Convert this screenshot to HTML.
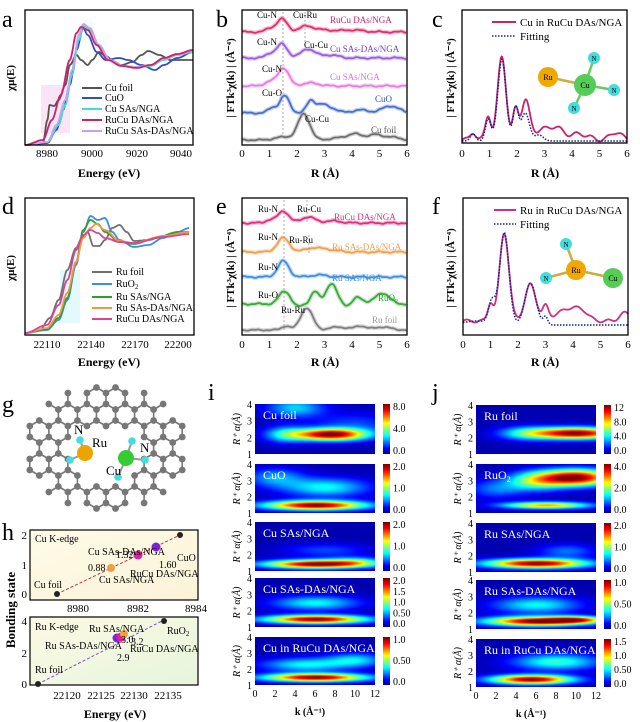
<!DOCTYPE html>
<html><head><meta charset="utf-8"><style>
body{margin:0;background:#fff;width:640px;height:722px;overflow:hidden;position:relative;font-family:"Liberation Serif",serif}
svg{position:absolute;left:0;top:0}
#s{z-index:0}
#s2{z-index:2}
canvas{position:absolute;z-index:1}
</style></head><body>
<svg id="s" width="640" height="722" viewBox="0 0 640 722" font-family="Liberation Serif, serif">
<g font-size="24">
<text x="2" y="27">a</text><text x="216" y="27">b</text><text x="432" y="27">c</text>
<text x="2" y="214">d</text><text x="216" y="214">e</text><text x="432" y="214">f</text>
<text x="2" y="412">g</text><text x="2" y="540">h</text><text x="208" y="400">i</text><text x="432" y="400">j</text>
</g>
<rect x="41" y="85" width="29" height="48" fill="#fbe4f6"/>
<rect x="60" y="270" width="20" height="53" fill="#e4f9fb"/>
<g id="curves"></g>
<g fill="none" stroke="#000" stroke-width="1.3">
<rect x="25" y="10" width="168" height="135"/><rect x="242" y="10" width="165" height="135"/><rect x="462" y="10" width="165" height="133"/>
<rect x="25" y="198" width="169" height="137"/><rect x="242" y="198" width="165" height="137"/><rect x="463" y="198" width="165" height="137"/>
</g>
<g font-size="11" text-anchor="middle">
<text x="47" y="157">8980</text><text x="92" y="157">9000</text><text x="137" y="157">9020</text><text x="181" y="157">9040</text>
<text x="47" y="348">22110</text><text x="91" y="348">22140</text><text x="135" y="348">22170</text><text x="178" y="348">22200</text>
</g>
<g font-size="11" text-anchor="middle" id="rt"></g>
<g font-size="12" font-weight="bold" text-anchor="middle">
<text x="109" y="177">Energy (eV)</text><text x="325" y="177">R (Å)</text><text x="545" y="177">R (Å)</text>
<text x="109" y="366">Energy (eV)</text><text x="325" y="366">R (Å)</text><text x="545" y="366">R (Å)</text>
<text x="115" y="718">Energy (eV)</text>
</g>
<g font-size="11" font-weight="bold" text-anchor="middle">
<text transform="translate(14,78) rotate(-90)">χμ(E)</text>
<text transform="translate(14,268) rotate(-90)">χμ(E)</text>
<text transform="translate(234,78) rotate(-90)">| FTk³χ(k) | (Å⁻⁴)</text>
<text transform="translate(234,268) rotate(-90)">| FTk³χ(k) | (Å⁻⁴)</text>
<text transform="translate(454,78) rotate(-90)">| FTk³χ(k) | (Å⁻⁴)</text>
<text transform="translate(454,268) rotate(-90)">| FTk³χ(k) | (Å⁻⁴)</text>
<text transform="translate(15,610) rotate(-90)" font-size="13">Bonding state</text>
</g>
<g font-size="10">
<line x1="82" y1="88" x2="102" y2="88" stroke="#555" stroke-width="2"/><text x="105" y="91">Cu foil</text>
<line x1="82" y1="98" x2="102" y2="98" stroke="#3050c0" stroke-width="2"/><text x="105" y="101">CuO</text>
<line x1="82" y1="109" x2="102" y2="109" stroke="#40e0c0" stroke-width="2"/><text x="105" y="112">Cu SAs/NGA</text>
<line x1="82" y1="120" x2="102" y2="120" stroke="#d0206a" stroke-width="2"/><text x="105" y="123">RuCu DAs/NGA</text>
<line x1="82" y1="131" x2="102" y2="131" stroke="#c8a0f0" stroke-width="2"/><text x="105" y="134">RuCu SAs-DAs/NGA</text>
<line x1="92" y1="272" x2="112" y2="272" stroke="#707070" stroke-width="2"/><text x="116" y="275">Ru foil</text>
<line x1="92" y1="284" x2="112" y2="284" stroke="#3a8ee0" stroke-width="2"/><text x="116" y="287">RuO<tspan font-size="7" dy="2">2</tspan></text>
<line x1="92" y1="297" x2="112" y2="297" stroke="#2ea02e" stroke-width="2"/><text x="116" y="300">Ru SAs/NGA</text>
<line x1="92" y1="308" x2="112" y2="308" stroke="#f09a40" stroke-width="2"/><text x="116" y="311">Ru SAs-DAs/NGA</text>
<line x1="92" y1="319" x2="112" y2="319" stroke="#e0409a" stroke-width="2"/><text x="116" y="322">RuCu DAs/NGA</text>
</g>
<g font-size="9">
<text x="257" y="18">Cu-N</text><text x="293" y="18">Cu-Ru</text><text x="330" y="23" fill="#d0206a">RuCu DAs/NGA</text>
<text x="257" y="45">Cu-N</text><text x="304" y="48">Cu-Cu</text><text x="330" y="52" fill="#7a3ed0">Cu SAs-DAs/NGA</text>
<text x="262" y="72">Cu-N</text><text x="330" y="80" fill="#e070d8">Cu SAs/NGA</text>
<text x="262" y="96">Cu-O</text><text x="375" y="102" fill="#3050c0">CuO</text>
<text x="305" y="122">Cu-Cu</text><text x="371" y="133" fill="#555">Cu foil</text>
<text x="258" y="212">Ru-N</text><text x="297" y="212">Ru-Cu</text><text x="334" y="220" fill="#e0307e">RuCu DAs/NGA</text>
<text x="258" y="240">Ru-N</text><text x="289" y="243">Ru-Ru</text><text x="332" y="250" fill="#f0a050">Ru SAs-DAs/NGA</text>
<text x="258" y="270">Ru-N</text><text x="332" y="281" fill="#3f8fe0">Ru SAs/NGA</text>
<text x="258" y="298">Ru-O</text><text x="378" y="301" fill="#2ea02e">RuO<tspan font-size="6" dy="2">2</tspan></text>
<text x="281" y="313">Ru-Ru</text><text x="372" y="323" fill="#999">Ru foil</text>
</g>
<g font-size="11">
<line x1="492" y1="22" x2="516" y2="22" stroke="#d0206a" stroke-width="2"/><text x="520" y="26">Cu in RuCu DAs/NGA</text>
<line x1="492" y1="36" x2="516" y2="36" stroke="#1020a0" stroke-width="1.5" stroke-dasharray="1.5 1.5"/><text x="520" y="40">Fitting</text>
<line x1="494" y1="210" x2="516" y2="210" stroke="#d0307e" stroke-width="2"/><text x="520" y="214">Ru in RuCu DAs/NGA</text>
<line x1="494" y1="224" x2="516" y2="224" stroke="#1020a0" stroke-width="1.5" stroke-dasharray="1.5 1.5"/><text x="520" y="228">Fitting</text>
</g>
<g stroke-width="2.5">
<line x1="548" y1="77" x2="585" y2="85" stroke="#c8b040"/>
<line x1="585" y1="85" x2="594" y2="58" stroke="#6c6"/><line x1="585" y1="85" x2="614" y2="90" stroke="#6c6"/><line x1="585" y1="85" x2="574" y2="108" stroke="#6c6"/>
<line x1="576" y1="270" x2="566" y2="244" stroke="#c8b040"/><line x1="576" y1="270" x2="546" y2="278" stroke="#c8b040"/><line x1="576" y1="270" x2="613" y2="278" stroke="#c8b040"/>
</g>
<g font-size="8" text-anchor="middle">
<circle cx="548" cy="77" r="10" fill="#f0a800"/><text x="548" y="80">Ru</text>
<circle cx="585" cy="85" r="11" fill="#5c5"/><text x="585" y="88">Cu</text>
<circle cx="594" cy="58" r="6" fill="#4dd"/><text x="594" y="61" font-size="7">N</text>
<circle cx="614" cy="90" r="6" fill="#4dd"/><text x="614" y="93" font-size="7">N</text>
<circle cx="574" cy="108" r="6" fill="#4dd"/><text x="574" y="111" font-size="7">N</text>
<circle cx="566" cy="244" r="6" fill="#4dd"/><text x="566" y="247" font-size="7">N</text>
<circle cx="546" cy="278" r="6" fill="#4dd"/><text x="546" y="281" font-size="7">N</text>
<circle cx="576" cy="270" r="10" fill="#f0a800"/><text x="576" y="273">Ru</text>
<circle cx="613" cy="278" r="10" fill="#5c5"/><text x="613" y="281">Cu</text>
</g>
<g id="lat"></g>
<g>
<line x1="85" y1="453" x2="80" y2="440" stroke="#999" stroke-width="2"/><line x1="85" y1="453" x2="70" y2="460" stroke="#999" stroke-width="2"/>
<line x1="126" y1="458" x2="132" y2="441" stroke="#999" stroke-width="2"/><line x1="126" y1="458" x2="145" y2="460" stroke="#999" stroke-width="2"/><line x1="126" y1="458" x2="118" y2="477" stroke="#999" stroke-width="2"/>
<circle cx="80" cy="440" r="3.8" fill="#4dd"/><circle cx="70" cy="460" r="3.8" fill="#4dd"/><circle cx="132" cy="441" r="3.8" fill="#4dd"/><circle cx="145" cy="460" r="3.8" fill="#4dd"/><circle cx="118" cy="477" r="3.8" fill="#4dd"/>
<circle cx="85" cy="453" r="8" fill="#eba400"/><circle cx="126" cy="458" r="8" fill="#3c3"/>
<g font-size="13"><text x="74" y="434">N</text><text x="92" y="447">Ru</text><text x="140" y="452">N</text><text x="106" y="475">Cu</text></g>
</g>
<defs>
<linearGradient id="h1" x1="0" y1="0" x2="1" y2="1"><stop offset="0" stop-color="#fffbe8"/><stop offset="1" stop-color="#fbf3d8"/></linearGradient>
<linearGradient id="h2" x1="0" y1="0" x2="1" y2="1"><stop offset="0" stop-color="#fdf9e4"/><stop offset="1" stop-color="#e6f5dc"/></linearGradient>
</defs>
<rect x="30" y="530" width="168" height="70" fill="url(#h1)" stroke="#000" stroke-width="1.2"/>
<rect x="30" y="617" width="168" height="68" fill="url(#h2)" stroke="#000" stroke-width="1.2"/>
<line x1="57" y1="594" x2="180" y2="535" stroke="#c03040" stroke-dasharray="3 2"/>
<line x1="38" y1="684" x2="162" y2="621" stroke="#8050d0" stroke-dasharray="3 2"/>
<circle cx="57" cy="594" r="3" fill="#222"/><circle cx="111" cy="568" r="4" fill="#f0a040"/><circle cx="138" cy="555" r="4.5" fill="#e020a0"/><circle cx="156" cy="547" r="4.5" fill="#8020e0"/><circle cx="180" cy="535" r="3" fill="#222"/>
<circle cx="38" cy="684" r="3" fill="#222"/><circle cx="117" cy="638" r="4.5" fill="#8020e0"/><circle cx="121" cy="637" r="4.5" fill="#e02090"/><circle cx="124" cy="634" r="4" fill="#f0a040"/><circle cx="164" cy="621" r="3" fill="#222"/>
<g font-size="10">
<text x="35" y="542">Cu K-edge</text><text x="88" y="555">Cu SAs-DAs/NGA</text><text x="177" y="561">CuO</text>
<text x="116" y="558">1.32</text><text x="159" y="568">1.60</text><text x="88" y="571">0.88</text><text x="130" y="577">RuCu DAs/NGA</text><text x="99" y="583">Cu SAs/NGA</text><text x="34" y="588">Cu foil</text>
<text x="35" y="630">Ru K-edge</text><text x="89" y="632">Ru SAs/NGA</text><text x="167" y="634">RuO<tspan font-size="7" dy="2">2</tspan></text>
<text x="121" y="643">3.0</text><text x="131" y="645">3.2</text><text x="45" y="649">Ru SAs-DAs/NGA</text><text x="130" y="652">RuCu DAs/NGA</text><text x="117" y="661">2.9</text><text x="35" y="673">Ru foil</text>
</g>
<g font-size="11" text-anchor="end">
<text x="27" y="539">2</text><text x="27" y="569">1</text><text x="27" y="598">0</text>
<text x="27" y="625">4</text><text x="27" y="657">2</text><text x="27" y="688">0</text>
</g>
<g font-size="11" text-anchor="middle">
<text x="78" y="612">8980</text><text x="138" y="612">8982</text><text x="196" y="612">8984</text>
<text x="67" y="699">22120</text><text x="101" y="699">22125</text><text x="134" y="699">22130</text><text x="168" y="699">22135</text>
</g>
</svg>
<svg id="s2" width="640" height="722" viewBox="0 0 640 722" font-family="Liberation Serif, serif"><g id="hm"></g></svg>
<script>
const S=document.getElementById('s');
const NS='http://www.w3.org/2000/svg';
function el(t,a,p){const e=document.createElementNS(NS,t);for(const k in a)e.setAttribute(k,a[k]);(p||S).appendChild(e);return e;}
const C=document.getElementById('curves');
function poly(pts,color,w,dash){let d='M'+pts.map(p=>p[0].toFixed(1)+','+p[1].toFixed(1)).join('L');const a={d:d,fill:'none',stroke:color,'stroke-width':w,'stroke-linejoin':'round'};if(dash)a['stroke-dasharray']=dash;el('path',a,C);}
function interp(pts,xf){const out=[];for(let i=0;i<pts.length-1;i++){const[a,b]=[pts[i],pts[i+1]];for(let t=0;t<1;t+=0.1){const t2=t*t*(3-2*t);out.push([xf(a[0]+(b[0]-a[0])*t),a[1]+(b[1]-a[1])*t2]);}}const l=pts[pts.length-1];out.push([xf(l[0]),l[1]]);return out;}
const xa=E=>25+(E-8970)*2.24;
const A=[
['#555',[[8970,145],[8978,143],[8980,120],[8981,105],[8983,106],[8985,100],[8988,85],[8990,65],[8993,55],[8995,60],[8998,65],[9000,60],[9003,52],[9006,56],[9010,62],[9013,65],[9018,62],[9022,55],[9025,51],[9030,55],[9035,60],[9045,60]]],
['#3050c0',[[8970,145],[8980,143],[8984,130],[8987,110],[8990,85],[8993,50],[8996,28],[8998,35],[9002,52],[9006,60],[9012,58],[9016,60],[9022,65],[9028,70],[9032,65],[9038,58],[9045,52]]],
['#40e0c0',[[8970,145],[8980,142],[8985,125],[8988,105],[8991,75],[8994,40],[8996,26],[8999,30],[9003,45],[9008,60],[9014,66],[9020,67],[9026,66],[9032,60],[9038,55],[9045,52]]],
['#c8a0f0',[[8970,145],[8980,142],[8984,125],[8988,100],[8991,70],[8994,35],[8996,24],[8999,28],[9003,45],[9008,60],[9014,66],[9020,67],[9026,65],[9032,59],[9038,55],[9045,51]]],
['#d0206a',[[8970,145],[8978,140],[8982,120],[8986,95],[8990,60],[8993,33],[8995,27],[8998,30],[9002,45],[9007,60],[9013,66],[9020,68],[9026,65],[9032,58],[9038,54],[9045,50]]]];
A.forEach(c=>poly(interp(c[1],xa),c[0],1.8));
const xd=E=>47+(E-22110)*1.45;
const D=[
['#707070',[[22095,333],[22105,330],[22112,318],[22118,300],[22124,270],[22130,248],[22134,238],[22138,232],[22142,246],[22146,246],[22150,240],[22155,228],[22160,225],[22165,232],[22170,241],[22180,240],[22190,236],[22200,233],[22208,232]]],
['#3a8ee0',[[22095,333],[22110,330],[22118,320],[22124,300],[22130,265],[22135,232],[22140,216],[22145,220],[22150,218],[22155,232],[22160,240],[22170,247],[22180,245],[22190,238],[22200,232],[22208,228]]],
['#2ea02e',[[22095,333],[22110,329],[22118,318],[22124,298],[22130,262],[22135,230],[22140,220],[22145,224],[22150,232],[22160,242],[22170,244],[22185,238],[22200,232],[22208,232]]],
['#f09a40',[[22095,333],[22110,328],[22118,315],[22124,293],[22130,262],[22135,238],[22140,228],[22144,224],[22150,230],[22160,241],[22170,243],[22190,236],[22208,232]]],
['#e0409a',[[22095,333],[22110,325],[22118,305],[22124,280],[22130,250],[22135,235],[22140,230],[22145,233],[22150,238],[22160,242],[22170,243],[22190,237],[22208,234]]]];
D.forEach(c=>poly(interp(c[1],xd),c[0],1.8));
function g(R,P){let v=0;for(const p of P)v+=p[2]*Math.exp(-((R-p[0])**2)/(2*p[1]*p[1]));return v;}
function fc(x0,base,P,color,w,wig){const pts=[];for(let R=0;R<=6;R+=0.03){let v=g(R,P)+(wig?wig*Math.sin(R*9+base)*0.6+wig*Math.sin(R*23)*0.3:0);pts.push([x0+R*27.5,base-v]);}poly(pts,color,w+2.5);C.lastChild.setAttribute('stroke-opacity','0.3');poly(pts,color,w);}
fc(242,32,[[1.45,.2,13],[1.0,.15,3],[2.35,.25,6],[3.0,.3,2],[4.0,.4,2]],'#e0306e',1.8,1);
fc(242,58,[[1.45,.2,14],[1.0,.15,4],[2.4,.25,9],[3.2,.3,3]],'#9a5ee0',1.8,1);
fc(242,86,[[1.5,.2,18],[1.0,.2,4],[2.5,.3,3]],'#e87de0',1.8,1);
fc(242,113,[[1.55,.18,17],[1.1,.15,5],[2.5,.15,12],[2.9,.2,8],[3.3,.2,4],[5.4,.3,7],[4.3,.3,3]],'#4a6fd0',1.8,1);
fc(242,140,[[2.25,.22,26],[1.5,.3,3],[4.1,.25,6],[4.8,.25,5],[3.5,.3,2],[5.4,.3,3]],'#707070',1.8,.8);
fc(242,223,[[1.5,.2,12],[1.0,.15,3],[2.4,.25,6],[3.3,.3,2]],'#e0307e',1.8,1);
fc(242,252,[[1.5,.22,14],[2.6,.3,4],[3.2,.3,2]],'#f0a050',1.8,1);
fc(242,277,[[1.5,.2,16],[2.8,.3,2]],'#3f8fe0',1.8,1);
fc(242,304,[[1.55,.2,13],[2.65,.15,12],[3.25,.2,20],[4.2,.2,7],[5.1,.25,11],[2.0,.15,-3],[3.9,.15,-3]],'#3aaa3a',1.8,1);
fc(242,330,[[2.35,.22,22],[1.6,.15,4],[3.5,.3,3],[4.3,.2,4],[5.1,.3,3]],'#808080',1.8,.8);
[[283,12,140],[305,12,50],[284,200,330],[307,200,224],[309,235,255]].forEach(l=>el('line',{x1:l[0],y1:l[1],x2:l[0],y2:l[2],stroke:'#888','stroke-dasharray':'2 2','stroke-width':.7},C));
function fc2(x0,base,P,color,w,dash,rmax,wig){const pts=[];for(let R=0;R<=rmax;R+=0.02){let v=g(R,P)+(wig?wig*Math.sin(R*11):0);pts.push([x0+R*27.5,base-v]);}poly(pts,color,w,dash);}
fc2(462,140,[[1.45,.15,84],[0.95,.1,25],[2.3,.15,38],[1.95,.1,30],[3.4,.3,12],[0.4,.1,8],[4.3,.3,6],[5.6,.2,8],[2.8,.3,8]],'#d0206a',1.8,null,6,2);
fc2(462,141,[[1.45,.15,82],[0.95,.1,22],[2.3,.15,28],[1.95,.1,33],[0.4,.1,7],[2.8,.15,6]],'#1020a0',1.5,'1.5 1.5',6,0);
fc2(463,321,[[1.5,.17,88],[1.0,.1,18],[2.45,.2,36],[3.0,.1,12],[4.0,.3,10],[4.4,.2,6],[5.9,.2,8],[3.5,.4,6]],'#d0307e',1.8,null,6,1.5);
fc2(463,325,[[1.5,.17,92],[1.05,.12,22],[2.45,.2,42],[3.0,.08,8],[0.5,.5,4]],'#1020a0',1.5,'1.5 1.5',6,0);
const RT=document.getElementById('rt');
[[242,157],[462,157],[242,348],[463,348]].forEach(o=>{for(let i=0;i<=6;i++){const t=el('text',{x:o[0]+i*27.5,y:o[1]},RT);t.textContent=i;}});
// lattice
const L=document.getElementById('lat');const b=11,h=b*Math.sqrt(3)/2;const atoms=[];
for(let r=-6;r<7;r++)for(let c=-8;c<9;c++){const cx=106+c*2*h+(Math.abs(r)%2?h:0),cy=448+r*1.5*b;for(let k=0;k<6;k++){const a=Math.PI/3*k+Math.PI/6;atoms.push([cx+b*Math.cos(a),cy+b*Math.sin(a)]);}}
const uniq=[];atoms.forEach(p=>{if(((p[0]-106)/82)**2+((p[1]-448)/64)**2>1)return;if(((p[0]-107)/32)**2+((p[1]-452)/26)**2<1)return;if(!uniq.some(q=>Math.abs(q[0]-p[0])<1.5&&Math.abs(q[1]-p[1])<1.5))uniq.push(p);});
for(let i=0;i<uniq.length;i++)for(let j=i+1;j<uniq.length;j++){const dx=uniq[i][0]-uniq[j][0],dy=uniq[i][1]-uniq[j][1];if(dx*dx+dy*dy<b*b*1.1)el('line',{x1:uniq[i][0],y1:uniq[i][1],x2:uniq[j][0],y2:uniq[j][1],stroke:'#777','stroke-width':1.6},L);}
uniq.forEach(p=>el('circle',{cx:p[0],cy:p[1],r:3.4,fill:'#777'},L));
// heatmaps
function jet(v){v=Math.max(0,Math.min(1,v));const f=x=>Math.max(0,Math.min(1,x));return[f(1.5-Math.abs(4*v-3))*255,f(1.5-Math.abs(4*v-2))*255,f(1.5-Math.abs(4*v-1))*255];}
const HM=document.getElementById('hm');
function heat(x,y,w,hh,P,label,cbx,ticks,last,sub){
 const cv=document.createElement('canvas');cv.width=w;cv.height=hh;cv.style.left=x+'px';cv.style.top=y+'px';document.body.appendChild(cv);
 const ctx=cv.getContext('2d');const im=ctx.createImageData(w,hh);
 for(let j=0;j<hh;j++)for(let i=0;i<w;i++){const k=i/w*12,R=4-j/hh*3;let v=0.05;for(const p of P)v+=p[4]*Math.exp(-((k-p[0])**2)/(2*p[2]*p[2])-((R-p[1])**2)/(2*p[3]*p[3]));const c=jet(v*0.95);const o=(j*w+i)*4;im.data[o]=c[0];im.data[o+1]=c[1];im.data[o+2]=c[2];im.data[o+3]=255;}
 ctx.putImageData(im,0,0);
 const cb=document.createElement('canvas');cb.width=7;cb.height=hh;cb.style.left=cbx+'px';cb.style.top=y+'px';document.body.appendChild(cb);
 const c2=cb.getContext('2d');for(let j=0;j<hh;j++){const c=jet(1-j/hh);c2.fillStyle=`rgb(${c[0]|0},${c[1]|0},${c[2]|0})`;c2.fillRect(0,j,7,1);}
 const t=el('text',{x:x+8,y:y+15,fill:'#fff','font-size':12},HM);t.textContent=label;if(sub){const s=el('tspan',{'font-size':8,dy:3},t);s.textContent=sub;}
 ticks.forEach((tk,i)=>{const tt=el('text',{x:cbx+10,y:y+6+i*(hh-6)/(ticks.length-1),'font-size':10},HM);tt.textContent=tk;});
 [1,2,3,4].forEach(v=>{const tt=el('text',{x:x-3,y:y+hh-(v-1)/3*hh+4,'font-size':10,'text-anchor':'end'},HM);tt.textContent=v;});
 const yl=el('text',{transform:`translate(${x-15},${y+hh/2}) rotate(-90)`,'font-size':10,'text-anchor':'middle','font-style':'italic'},HM);yl.textContent='R⁺ α(Å)';
 if(last){for(let k=0;k<=12;k+=2){const tt=el('text',{x:x+k/12*w,y:y+hh+12,'font-size':10,'text-anchor':'middle'},HM);tt.textContent=k;}const kl=el('text',{x:x+w/2-5,y:y+hh+30,'font-size':10,'text-anchor':'middle','font-weight':'bold'},HM);kl.textContent='k (Å⁻¹)';}
}
heat(255,404,120,50,[[7.5,2.2,2.5,.25,1],[4,3.8,2,.4,.3],[3,2.2,1.5,.35,.3],[10,2.8,3,.5,.15]],'Cu foil',383,['8.0','4.0','0.0']);
heat(255,464,120,49,[[6,1.5,3.5,.2,1],[7,2.6,3,.4,.35],[2,3.2,2,.4,.25]],'CuO',383,['2.0','1.0','0.0']);
heat(255,522,120,49,[[6,1.45,3.5,.18,1],[10,1.6,2,.2,.3],[7,2.3,3,.3,.15]],'Cu SAs/NGA',383,['2.0','1.0','0.0']);
heat(255,578,120,49,[[6,1.5,3.5,.18,1],[6,2.5,3,.3,.35]],'Cu SAs-DAs/NGA',383,['2.0','1.5','1.0','0.50','0.0']);
heat(255,637,120,48,[[6,1.5,3.5,.18,1],[5,2.3,3,.3,.35],[10,2.6,2,.3,.3]],'Cu in RuCu DAs/NGA',383,['1.0','0.50','0.0'],true);
heat(476,405,120,49,[[10,2.3,3,.25,1],[5,2.3,2,.3,.3]],'Ru foil',604,['12','8.0','4.0','0.0']);
heat(476,464,120,49,[[10,3.2,2.5,.35,1],[6,3,2,.4,.45],[7,1.5,3,.15,.7],[2,2.5,2,.4,.2]],'RuO',604,['4.0','2.0','0.0'],false,'2');
heat(476,523,120,49,[[6,1.55,3.5,.2,1],[9,2.3,2,.3,.2]],'Ru SAs/NGA',604,['2.0','1.0','0.0']);
heat(476,580,120,49,[[6,1.5,3.5,.2,1],[6,2.5,3,.35,.35],[10,1.6,2,.15,.6]],'Ru SAs-DAs/NGA',604,['1.0','0.50','0.0']);
heat(476,639,120,48,[[5.5,1.5,2.8,.2,1],[8,2.6,3,.35,.4]],'Ru in RuCu DAs/NGA',604,['1.5','1.0','0.50','0.0'],true);
</script>
</body></html>
